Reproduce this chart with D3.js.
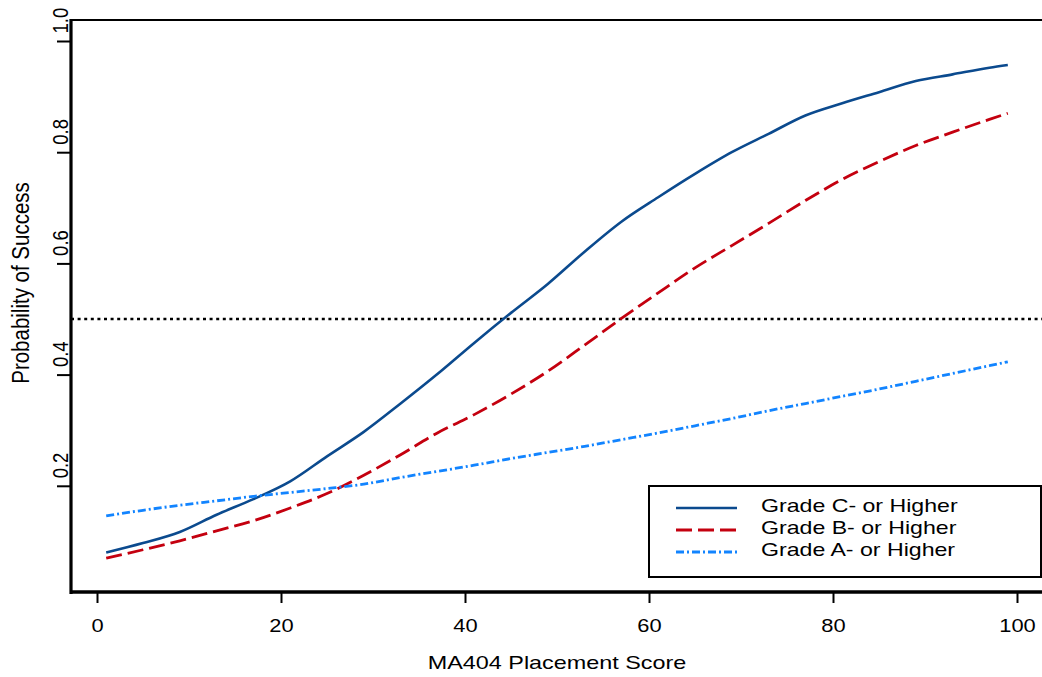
<!DOCTYPE html>
<html>
<head>
<meta charset="utf-8">
<script src="https://cdn.jsdelivr.net/npm/d3@7"></script>
<style>
  body { margin: 0; background: #fff; }
  svg { display: block; font-family: "Liberation Sans", Arial, sans-serif; }
</style>
</head>
<body>
<div id="chart"></div>
<script>
// placement scores where the curves were read
let scores = [1, 5, 9, 13, 17, 21, 25, 29, 33, 37, 41, 45, 49, 53, 57, 61, 65, 69, 73, 77, 81, 85, 89, 93, 97, 99];

let gradeC = [0.080, 0.097, 0.117, 0.148, 0.176, 0.208, 0.253, 0.297, 0.348, 0.401, 0.457, 0.511, 0.563,
    0.621, 0.675, 0.719, 0.761, 0.800, 0.833, 0.866, 0.888, 0.908, 0.928, 0.940, 0.952, 0.957];
let gradeB = [0.070, 0.085, 0.101, 0.119, 0.137, 0.160, 0.186, 0.219, 0.256, 0.295, 0.328, 0.365, 0.406,
    0.453, 0.501, 0.547, 0.592, 0.632, 0.672, 0.713, 0.751, 0.783, 0.812, 0.836, 0.859, 0.870];
let gradeA = [0.146, 0.156, 0.165, 0.173, 0.181, 0.188, 0.195, 0.203, 0.215, 0.226, 0.237, 0.249, 0.260,
    0.271, 0.283, 0.295, 0.308, 0.321, 0.335, 0.348, 0.361, 0.374, 0.388, 0.402, 0.416, 0.423];

let seriesNames = ["Grade C- or Higher", "Grade B- or Higher", "Grade A- or Higher"];
let xTicks = [0, 20, 40, 60, 80, 100];
let yTicks = [0.2, 0.4, 0.6, 0.8, 1.0];
let cutoff = 0.5;

let svgWidth = 1042;
let svgHeight = 677;

let svg = d3.select("#chart")
    .append("svg")
    .attr("width", svgWidth)
    .attr("height", svgHeight);

let frame = { left: 71, top: 20, bottom: 592 };

let x = d3.scaleLinear().domain([0, 100]).range([97, 1017]);
let y = d3.scaleLinear().domain([0, 1]).range([597, 41]);

let styles = [
    { color: "#0b4a8e", dash: null, width: 2.6 },
    { color: "#c4000f", dash: "16,6", width: 2.8 },
    { color: "#1284ff", dash: "8,3,2,3", width: 2.8 }
];

// frame top line
svg.append("line")
    .attr("x1", frame.left).attr("x2", svgWidth + 10)
    .attr("y1", frame.top).attr("y2", frame.top)
    .attr("stroke", "#000").attr("stroke-width", 2);

// cutoff dotted line
svg.append("line")
    .attr("x1", frame.left).attr("x2", svgWidth + 10)
    .attr("y1", y(cutoff)).attr("y2", y(cutoff))
    .attr("stroke", "#000")
    .attr("stroke-width", 2.5)
    .attr("stroke-dasharray", "3,3.6");

// curves
let line = d3.line()
    .x((d, i) => x(scores[i]))
    .y(d => y(d))
    .curve(d3.curveMonotoneX);

[gradeC, gradeB, gradeA].forEach(function (vals, i) {
    svg.append("path")
        .datum(vals)
        .attr("d", line)
        .attr("fill", "none")
        .attr("stroke", styles[i].color)
        .attr("stroke-width", styles[i].width)
        .attr("stroke-dasharray", styles[i].dash);
});

// y axis
let yAxis = svg.append("g")
    .attr("transform", `translate(${frame.left}, 0)`)
    .call(d3.axisLeft(y).tickValues(yTicks).tickSize(14).tickFormat(d3.format(".1f")));
yAxis.select(".domain").remove();
yAxis.selectAll(".tick line").attr("stroke", "#000").attr("stroke-width", 2);
yAxis.selectAll(".tick text")
    .attr("x", 0).attr("y", 0).attr("dy", 0)
    .attr("text-anchor", "start")
    .attr("transform", "translate(-3,-8) scale(1.2,1) rotate(-90)")
    .attr("font-size", 18.5)
    .attr("fill", "#000");

svg.append("line")
    .attr("x1", frame.left).attr("x2", frame.left)
    .attr("y1", frame.top - 1).attr("y2", frame.bottom + 2)
    .attr("stroke", "#000").attr("stroke-width", 3.2);

// x axis
let xAxis = svg.append("g")
    .attr("transform", `translate(0, ${frame.bottom})`)
    .call(d3.axisBottom(x).tickValues(xTicks).tickSize(11));
xAxis.select(".domain").remove();
xAxis.selectAll(".tick line").attr("stroke", "#000").attr("stroke-width", 2);
xAxis.selectAll(".tick text")
    .attr("y", 40).attr("dy", 0)
    .attr("transform", "scale(1.25,1)")
    .attr("font-size", 17.5)
    .attr("fill", "#000");

svg.append("line")
    .attr("x1", frame.left - 1).attr("x2", svgWidth + 10)
    .attr("y1", frame.bottom).attr("y2", frame.bottom)
    .attr("stroke", "#000").attr("stroke-width", 3.6);

// axis titles
svg.append("text")
    .attr("transform", "translate(557, 669) scale(1.23,1)")
    .attr("text-anchor", "middle")
    .attr("font-size", 19)
    .text("MA404 Placement Score");

svg.append("text")
    .attr("transform", "translate(29, 283) scale(1.15,1) rotate(-90)")
    .attr("text-anchor", "middle")
    .attr("font-size", 20.5)
    .text("Probability of Success");

// legend
let legend = svg.append("g");
legend.append("rect")
    .attr("x", 649).attr("y", 486)
    .attr("width", 392).attr("height", 91)
    .attr("fill", "#fff")
    .attr("stroke", "#000").attr("stroke-width", 2);

let rowY = [508, 530, 552];
seriesNames.forEach(function (name, i) {
    legend.append("line")
        .attr("x1", 676).attr("x2", 737)
        .attr("y1", rowY[i]).attr("y2", rowY[i])
        .attr("stroke", styles[i].color)
        .attr("stroke-width", styles[i].width)
        .attr("stroke-dasharray", styles[i].dash);
    legend.append("text")
        .attr("transform", `translate(761, ${rowY[i] + 4}) scale(1.25,1)`)
        .attr("font-size", 18.5)
        .text(name);
});
</script>
</body>
</html>
